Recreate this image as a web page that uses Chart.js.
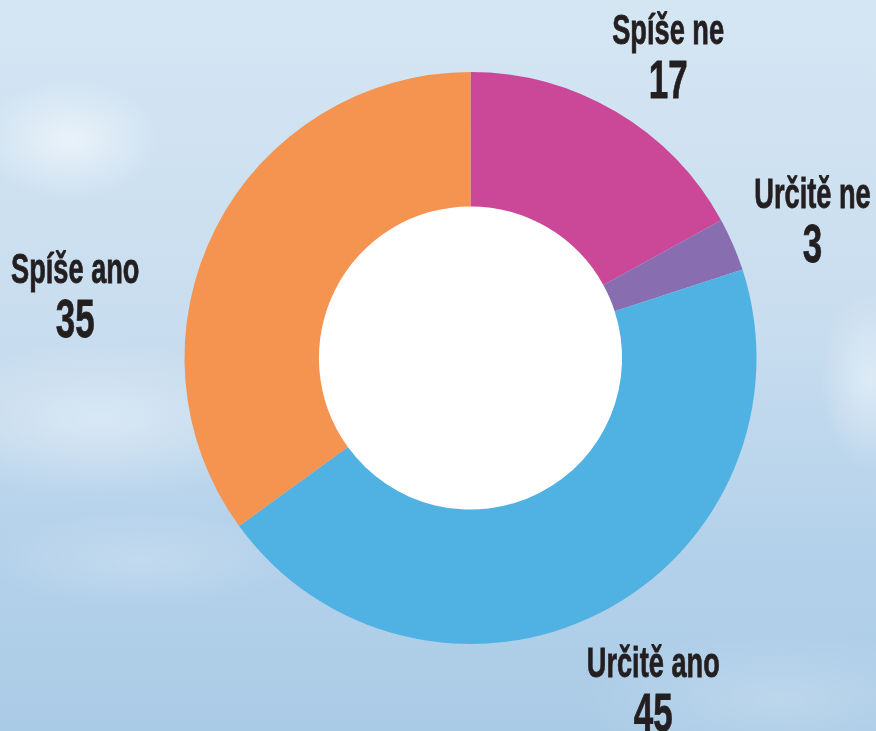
<!DOCTYPE html>
<html>
<head>
<meta charset="utf-8">
<script src="https://cdn.jsdelivr.net/npm/chart.js@4.4.1/dist/chart.umd.min.js"></script>
<style>
  html, body { margin: 0; padding: 0; }
  body {
    width: 876px; height: 731px; overflow: hidden;
    background:
      radial-gradient(ellipse 90px 60px at 70px 140px, rgba(255,255,255,0.55), rgba(255,255,255,0) 100%),
      radial-gradient(ellipse 200px 80px at 100px 420px, rgba(255,255,255,0.4), rgba(255,255,255,0) 100%),
      radial-gradient(ellipse 160px 50px at 140px 560px, rgba(255,255,255,0.2), rgba(255,255,255,0) 100%),
      radial-gradient(ellipse 50px 90px at 870px 380px, rgba(255,255,255,0.45), rgba(255,255,255,0) 100%),
      radial-gradient(ellipse 200px 70px at 780px 700px, rgba(255,255,255,0.2), rgba(255,255,255,0) 100%),
      linear-gradient(180deg, #d5e6f3 0%, #c8ddef 45%, #b4d1ea 75%, #aacbe6 100%);
  }
  #wrap { position: absolute; left: 0; top: 0; width: 876px; height: 731px; }
</style>
</head>
<body>
<div id="wrap"><canvas id="chart"></canvas></div>
<script>
  // hodnoty z grafu (v %)
  const categories = ["Spíše ne", "Určitě ne", "Určitě ano", "Spíše ano"];
  const values = [17, 3, 45, 35];
  const colors = ["#cb4798", "#886eb0", "#50b1e3", "#f59451"];

  // umístění popisků vůči středu, v násobcích poloměru
  const labelPos = [[0.691, -1.098], [1.196, -0.526], [0.639, 1.116], [-1.382, -0.263]];

  const labelPlugin = {
    id: "sliceLabels",
    afterDraw(chart) {
      const ctx = chart.ctx;
      const arc = chart.getDatasetMeta(0).data[0];
      const cx = arc.x, cy = arc.y, R = arc.outerRadius;
      ctx.save();
      ctx.fillStyle = "#231f20";
      ctx.strokeStyle = "#231f20";
      ctx.lineWidth = 0.8;
      ctx.textBaseline = "alphabetic";
      ctx.textAlign = "center";
      ctx.font = "bold 42px 'Liberation Sans', Arial, sans-serif";
      var k = 133 / ctx.measureText("Určitě ano").width;
      for (var i = 0; i < categories.length; i++) {
        var x = cx + labelPos[i][0] * R;
        var y = cy + labelPos[i][1] * R;
        ctx.save();
        ctx.translate(x, y);
        ctx.scale(k, 1);
        ctx.font = "bold 42px 'Liberation Sans', Arial, sans-serif";
        ctx.fillText(categories[i], 0, 0);
        ctx.strokeText(categories[i], 0, 0);
        ctx.font = "bold 54px 'Liberation Sans', Arial, sans-serif";
        ctx.fillText(String(values[i]), 0, 54);
        ctx.strokeText(String(values[i]), 0, 54);
        ctx.restore();
      }
      ctx.restore();
    }
  };

  new Chart(document.getElementById("chart"), {
    type: "doughnut",
    data: {
      labels: categories,
      datasets: [{
        data: values,
        backgroundColor: colors,
        borderColor: colors,
        borderWidth: 0,
        hoverOffset: 0
      }]
    },
    options: {
      responsive: true,
      maintainAspectRatio: false,
      animation: false,
      cutout: "53%",
      layout: { padding: { left: 184, right: 119, top: 72, bottom: 87 } },
      plugins: { legend: { display: false }, tooltip: { enabled: false } }
    },
    plugins: [
      {
        id: "whiteHole",
        beforeDatasetsDraw(chart) {
          const a = chart.getDatasetMeta(0).data[0];
          const ctx = chart.ctx;
          ctx.save();
          ctx.fillStyle = "#ffffff";
          ctx.beginPath();
          ctx.arc(a.x, a.y, a.innerRadius + 1, 0, Math.PI * 2);
          ctx.fill();
          ctx.restore();
        }
      },
      labelPlugin
    ]
  });
</script>
</body>
</html>
